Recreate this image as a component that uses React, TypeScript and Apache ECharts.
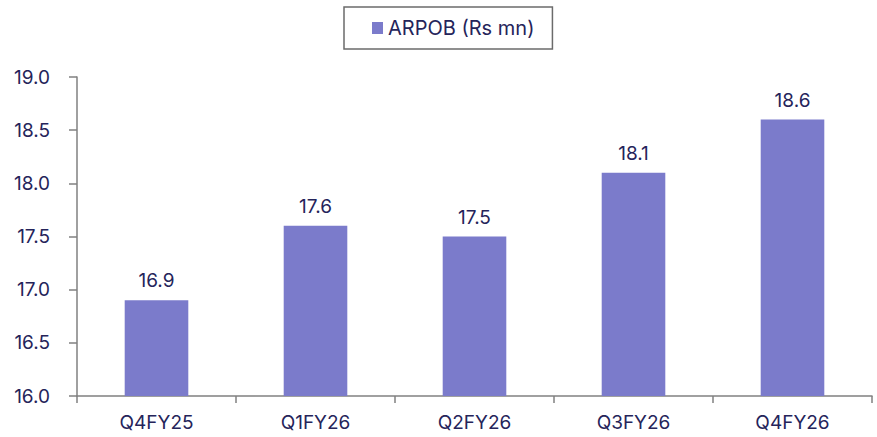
import React, { useEffect, useRef } from "react";
import * as echarts from "echarts";

const categories = ["Q4FY25", "Q1FY26", "Q2FY26", "Q3FY26", "Q4FY26"];
const arpob = [16.9, 17.6, 17.5, 18.1, 18.6];
const seriesName = "ARPOB (Rs mn)";

export default function App() {
  const ref = useRef<HTMLDivElement>(null);
  useEffect(() => {
    if (!ref.current) return;
    const chart = echarts.init(ref.current, null, { renderer: "svg" });
    const textColor = "#25245a";
    const font = "Inter, 'Noto Sans', sans-serif";
    chart.setOption({
      animation: false,
      legend: {
        data: [{ name: seriesName, icon: "rect" }],
        top: 7,
        left: 344,
        itemWidth: 11,
        itemHeight: 12,
        itemGap: 6,
        borderColor: "#6b6b6b",
        borderWidth: 1.5,
        padding: [11, 18, 11, 28],
        textStyle: { color: textColor, fontSize: 20, fontFamily: font },
      },
      grid: { left: 77, right: 5, top: 77, bottom: 41, containLabel: false },
      xAxis: {
        type: "category",
        data: categories,
        axisLine: { lineStyle: { color: "#808080", width: 1.5 } },
        axisTick: { show: true, length: 7, alignWithLabel: false, lineStyle: { color: "#808080", width: 1.5 } },
        axisLabel: { color: textColor, fontSize: 19, fontFamily: font, margin: 17 },
      },
      yAxis: {
        type: "value",
        min: 16,
        max: 19,
        interval: 0.5,
        splitLine: { show: false },
        axisLine: { show: true, lineStyle: { color: "#808080", width: 1.5 } },
        axisTick: { show: true, length: 8, lineStyle: { color: "#808080", width: 1.5 } },
        axisLabel: {
          color: textColor,
          fontSize: 19,
          fontFamily: font,
          margin: 27,
          formatter: (v: number) => v.toFixed(1),
        },
      },
      series: [
        {
          name: seriesName,
          type: "bar",
          data: arpob,
          barWidth: "40%",
          itemStyle: { color: "#7b7bcb" },
          label: {
            show: true,
            position: "top",
            distance: 10,
            color: textColor,
            fontSize: 19,
            fontFamily: font,
            formatter: (p: any) => p.value.toFixed(1),
          },
        },
      ],
    });
    return () => chart.dispose();
  }, []);
  return <div ref={ref} style={{ width: 877, height: 437, position: "absolute", left: 0, top: 0 }} />;
}
